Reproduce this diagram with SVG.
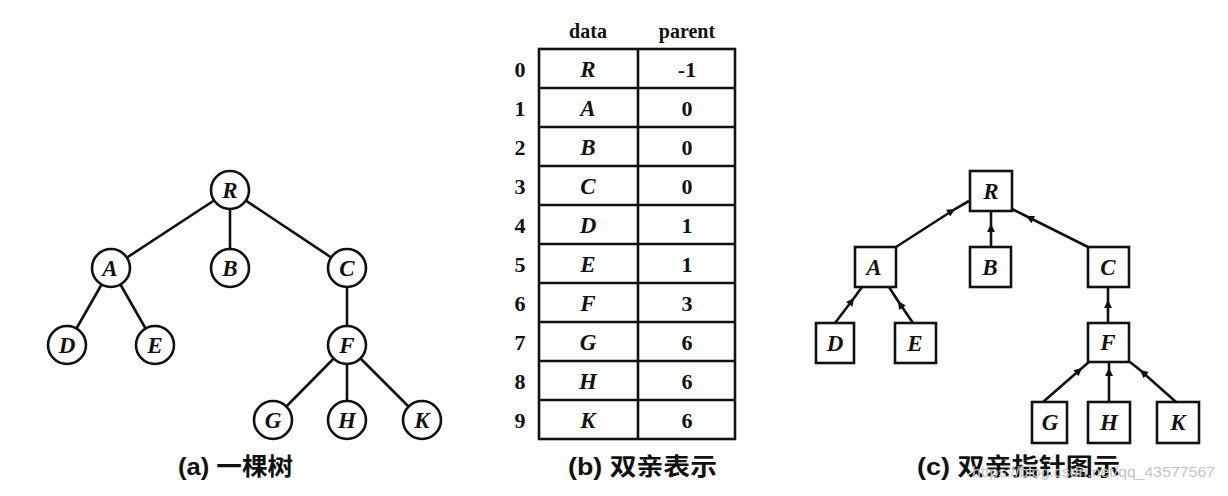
<svg xmlns="http://www.w3.org/2000/svg" width="1228" height="496" viewBox="0 0 1228 496">
<defs>
<marker id="ah" viewBox="0 0 10 10" refX="10" refY="5" markerWidth="12" markerHeight="8" markerUnits="userSpaceOnUse" orient="auto">
<path d="M0,0 L10,5 L0,10 z" fill="#111"/>
</marker>
<style>
.edge{stroke:#111;stroke-width:2.6;fill:none}
.arr{stroke:#111;stroke-width:2.6;fill:none;marker-mid:url(#ah)}
.circ{fill:#fff;stroke:#111;stroke-width:2.6}
.box{fill:#fff;stroke:#111;stroke-width:2.6}
.lbl{font-family:"Liberation Serif",serif;font-style:italic;font-weight:bold;font-size:23px;fill:#111;text-anchor:middle}
.num{font-family:"Liberation Serif",serif;font-weight:bold;font-size:22px;fill:#111;text-anchor:middle}
.hdr{font-family:"Liberation Serif",serif;font-weight:bold;font-size:20px;fill:#111;text-anchor:middle}
.cap{font-family:"Liberation Sans","Noto Sans CJK SC",sans-serif;font-weight:bold;font-size:24px;fill:#111}
.tbl{stroke:#111;stroke-width:2.6;fill:none}
.wm{font-family:"Liberation Sans",sans-serif;font-size:15px;fill:#c4c4c4}
</style>
</defs>
<rect width="1228" height="496" fill="#fff"/>

<!-- (a) tree -->
<g id="tree-a-edges">
<line class="edge" x1="230" y1="190" x2="111" y2="268"/>
<line class="edge" x1="230" y1="190" x2="230" y2="268"/>
<line class="edge" x1="230" y1="190" x2="347" y2="268"/>
<line class="edge" x1="111" y1="268" x2="67" y2="345"/>
<line class="edge" x1="111" y1="268" x2="155" y2="345"/>
<line class="edge" x1="347" y1="268" x2="347" y2="345"/>
<line class="edge" x1="347" y1="345" x2="273" y2="420"/>
<line class="edge" x1="347" y1="345" x2="347" y2="420"/>
<line class="edge" x1="347" y1="345" x2="422" y2="420"/>
</g>
<g id="a-R"><circle class="circ" cx="230" cy="190" r="19"/><text class="lbl" x="230" y="198">R</text></g>
<g id="a-A"><circle class="circ" cx="111" cy="268" r="19"/><text class="lbl" x="110" y="276">A</text></g>
<g id="a-B"><circle class="circ" cx="230" cy="268" r="19"/><text class="lbl" x="230" y="276">B</text></g>
<g id="a-C"><circle class="circ" cx="347" cy="268" r="19"/><text class="lbl" x="347" y="276">C</text></g>
<g id="a-D"><circle class="circ" cx="67" cy="345" r="19"/><text class="lbl" x="67" y="353">D</text></g>
<g id="a-E"><circle class="circ" cx="155" cy="345" r="19"/><text class="lbl" x="155" y="353">E</text></g>
<g id="a-F"><circle class="circ" cx="347" cy="345" r="19"/><text class="lbl" x="347" y="353">F</text></g>
<g id="a-G"><circle class="circ" cx="273" cy="420" r="19"/><text class="lbl" x="273" y="428">G</text></g>
<g id="a-H"><circle class="circ" cx="347" cy="420" r="19"/><text class="lbl" x="347" y="428">H</text></g>
<g id="a-K"><circle class="circ" cx="422" cy="420" r="19"/><text class="lbl" x="422" y="428">K</text></g>
<text class="cap" x="178" y="475" textLength="115" lengthAdjust="spacingAndGlyphs">(a) 一棵树</text>

<!-- (b) table -->
<g id="table-b">
<text class="hdr" x="588" y="38">data</text>
<text class="hdr" x="687" y="38">parent</text>
<rect class="tbl" x="539" y="49" width="196" height="390"/>
<line class="tbl" x1="638" y1="49" x2="638" y2="439"/>
<line class="tbl" x1="539" y1="88" x2="735" y2="88"/>
<line class="tbl" x1="539" y1="127" x2="735" y2="127"/>
<line class="tbl" x1="539" y1="166" x2="735" y2="166"/>
<line class="tbl" x1="539" y1="205" x2="735" y2="205"/>
<line class="tbl" x1="539" y1="244" x2="735" y2="244"/>
<line class="tbl" x1="539" y1="283" x2="735" y2="283"/>
<line class="tbl" x1="539" y1="322" x2="735" y2="322"/>
<line class="tbl" x1="539" y1="361" x2="735" y2="361"/>
<line class="tbl" x1="539" y1="400" x2="735" y2="400"/>
<text class="num" x="520" y="77">0</text><text class="lbl" x="588" y="77">R</text><text class="num" x="687" y="77">-1</text>
<text class="num" x="520" y="116">1</text><text class="lbl" x="588" y="116">A</text><text class="num" x="687" y="116">0</text>
<text class="num" x="520" y="155">2</text><text class="lbl" x="588" y="155">B</text><text class="num" x="687" y="155">0</text>
<text class="num" x="520" y="194">3</text><text class="lbl" x="588" y="194">C</text><text class="num" x="687" y="194">0</text>
<text class="num" x="520" y="233">4</text><text class="lbl" x="588" y="233">D</text><text class="num" x="687" y="233">1</text>
<text class="num" x="520" y="272">5</text><text class="lbl" x="588" y="272">E</text><text class="num" x="687" y="272">1</text>
<text class="num" x="520" y="311">6</text><text class="lbl" x="588" y="311">F</text><text class="num" x="687" y="311">3</text>
<text class="num" x="520" y="350">7</text><text class="lbl" x="588" y="350">G</text><text class="num" x="687" y="350">6</text>
<text class="num" x="520" y="389">8</text><text class="lbl" x="588" y="389">H</text><text class="num" x="687" y="389">6</text>
<text class="num" x="520" y="428">9</text><text class="lbl" x="588" y="428">K</text><text class="num" x="687" y="428">6</text>
</g>
<text class="cap" x="568" y="475" textLength="149" lengthAdjust="spacingAndGlyphs">(b) 双亲表示</text>

<!-- (c) parent pointer -->
<g id="tree-c-edges">
<path class="arr" d="M896,247 L955,209 L969,201"/>
<path class="arr" d="M991,247 L991,224 L991,211"/>
<path class="arr" d="M1088,247 L1026,216 L1012,209"/>
<path class="arr" d="M835,323 L854,298 L862,287"/>
<path class="arr" d="M913,323 L898,301 L889,287"/>
<path class="arr" d="M1108,323 L1108,300 L1108,287"/>
<path class="arr" d="M1043,402 L1082,368 L1089,362"/>
<path class="arr" d="M1109,402 L1109,368 L1109,362"/>
<path class="arr" d="M1176,402 L1140,370 L1130,362"/>
</g>
<g id="c-R"><rect class="box" x="970" y="171" width="42" height="40"/><text class="lbl" x="991" y="199">R</text></g>
<g id="c-A"><rect class="box" x="855" y="247" width="41" height="40"/><text class="lbl" x="874" y="275">A</text></g>
<g id="c-B"><rect class="box" x="970" y="247" width="41" height="40"/><text class="lbl" x="990" y="275">B</text></g>
<g id="c-C"><rect class="box" x="1088" y="247" width="41" height="40"/><text class="lbl" x="1108" y="275">C</text></g>
<g id="c-D"><rect class="box" x="816" y="323" width="38" height="40"/><text class="lbl" x="835" y="351">D</text></g>
<g id="c-E"><rect class="box" x="895" y="323" width="41" height="40"/><text class="lbl" x="915" y="351">E</text></g>
<g id="c-F"><rect class="box" x="1088" y="323" width="41" height="39"/><text class="lbl" x="1108" y="350">F</text></g>
<g id="c-G"><rect class="box" x="1032" y="402" width="35" height="41"/><text class="lbl" x="1050" y="430">G</text></g>
<g id="c-H"><rect class="box" x="1088" y="402" width="42" height="41"/><text class="lbl" x="1109" y="430">H</text></g>
<g id="c-K"><rect class="box" x="1157" y="402" width="42" height="41"/><text class="lbl" x="1178" y="430">K</text></g>
<text class="cap" x="917" y="475" textLength="203" lengthAdjust="spacingAndGlyphs">(c) 双亲指针图示</text>
<text class="wm" x="972" y="477" textLength="243" lengthAdjust="spacingAndGlyphs">https://blog.csdn.net/qq_43577567</text>
</svg>
